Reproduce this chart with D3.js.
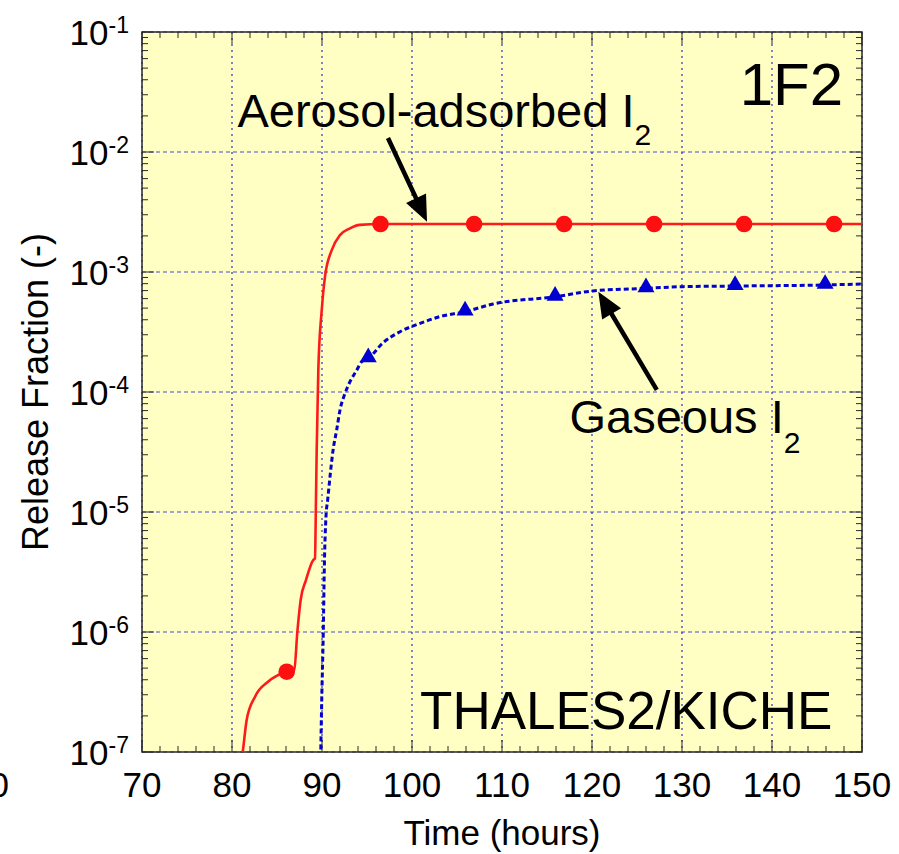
<!DOCTYPE html>
<html>
<head>
<meta charset="utf-8">
<script src="https://cdn.jsdelivr.net/npm/d3@7"></script>
<style>
html,body{margin:0;padding:0;background:#fff;}
svg{display:block;font-family:"Liberation Sans",Arial,Helvetica,sans-serif;}
</style>
</head>
<body>
<svg id="chart" width="899" height="854"></svg>
<script>
// ---------- data ----------
const xTickValues = [70, 80, 90, 100, 110, 120, 130, 140, 150];
const xMinorStep = 2;
const yTickExponents = [-1, -2, -3, -4, -5, -6, -7];
const strayTickLabel = "60";

// Aerosol-adsorbed I2 (red solid)
const aerosolTime  = [81.1, 81.19, 81.63, 82.56, 84.0, 86.08, 86.92, 87.26, 87.63, 88.22, 89.03, 89.22, 89.33, 89.41, 89.59, 89.97, 90.33, 91.08, 92.0, 93.1, 94.2, 96.5, 150];
const aerosolValue = [9e-8, 1.0e-7, 1.85e-7, 2.89e-7, 3.85e-7, 4.67e-7, 4.82e-7, 1.0e-6, 1.85e-6, 2.71e-6, 3.98e-6, 4.11e-6, 1.26e-5, 3.29e-5, 1.52e-4, 4.82e-4, 9.14e-4, 1.52e-3, 2.03e-3, 2.31e-3, 2.47e-3, 2.51e-3, 2.51e-3];
const aerosolMarkerTime  = [86.08, 96.5, 106.9, 116.9, 126.9, 136.9, 146.9];
const aerosolMarkerValue = [4.67e-7, 2.51e-3, 2.51e-3, 2.51e-3, 2.51e-3, 2.51e-3, 2.51e-3];

// Gaseous I2 (blue dotted)
const gasTime  = [89.85, 89.97, 90.14, 90.26, 90.44, 90.63, 91.26, 91.63, 92.0, 92.56, 93.11, 93.86, 94.41, 95.14, 96.81, 98.67, 100.9, 103.1, 105.9, 109.0, 115.9, 120.1, 126.0, 130.1, 135.9, 145.9, 150];
const gasValue = [9e-8, 2.71e-7, 9.8e-7, 3.48e-6, 9.08e-6, 1.26e-5, 3.40e-5, 4.82e-5, 7.08e-5, 9.75e-5, 1.22e-4, 1.52e-4, 1.79e-4, 1.91e-4, 2.58e-4, 3.18e-4, 3.73e-4, 4.25e-4, 4.67e-4, 5.41e-4, 6.22e-4, 6.95e-4, 7.31e-4, 7.55e-4, 7.64e-4, 7.80e-4, 7.94e-4];
const gasMarkerTime  = [95.14, 105.9, 115.9, 126.0, 135.9, 145.9];
const gasMarkerValue = [1.91e-4, 4.67e-4, 6.22e-4, 7.31e-4, 7.64e-4, 7.80e-4];

// annotations (data coordinates)
const arrowAerosol = {from: [97.33, 1.31e-2], to: [101.67, 2.62e-3]};
const arrowGas     = {from: [127.2, 1.04e-4], to: [120.7, 6.86e-4]};
const labelAerosol = {t: 80.6, v: 1.62e-2, text: "Aerosol-adsorbed I", sub: "2"};
const labelGas     = {t: 117.5, v: 4.55e-5, text: "Gaseous I", sub: "2"};
const labelCase    = {t: 147.9, v: 2.47e-2, text: "1F2"};
const labelSource  = {t: 100.9, v: 1.56e-7, text: "THALES2/KICHE"};

// ---------- layout ----------
const svg = d3.select("#chart");
const L = 142, R = 862, T = 32, B = 752;
const x = d3.scaleLinear().domain([70, 150]).range([L, R]);
const y = d3.scaleLog().domain([1e-7, 1e-1]).range([B, T]);

const gridColor = "#2e2ed6";
const frameColor = "#2a2a2a";

svg.append("defs").append("clipPath").attr("id", "plotClip")
  .append("rect").attr("x", L).attr("y", T).attr("width", R - L).attr("height", B - T);

svg.append("rect").attr("x", L).attr("y", T).attr("width", R - L).attr("height", B - T)
  .attr("fill", "#ffffc4");

// grid
const grid = svg.append("g");
grid.selectAll("line.vg").data(xTickValues).join("line")
  .attr("x1", d => x(d)).attr("x2", d => x(d)).attr("y1", T).attr("y2", B)
  .attr("stroke", gridColor).attr("stroke-width", 1.2).attr("stroke-dasharray", "2,4");
grid.selectAll("line.hg").data(yTickExponents).join("line")
  .attr("x1", L).attr("x2", R).attr("y1", d => y(Math.pow(10, d))).attr("y2", d => y(Math.pow(10, d)))
  .attr("stroke", gridColor).attr("stroke-opacity", 0.85).attr("stroke-width", 1.2).attr("stroke-dasharray", "4,3");

// ticks (inward, all four sides)
const ticks = svg.append("g").attr("stroke", frameColor).attr("stroke-width", 1);
const xMinor = d3.range(70, 150 + 0.001, xMinorStep);
xMinor.forEach(v => {
  const major = xTickValues.includes(v);
  const len = major ? 12 : 6;
  ticks.append("line").attr("x1", x(v)).attr("x2", x(v)).attr("y1", B).attr("y2", B - len);
  ticks.append("line").attr("x1", x(v)).attr("x2", x(v)).attr("y1", T).attr("y2", T + len);
});
yTickExponents.forEach(e => {
  const base = Math.pow(10, e);
  ticks.append("line").attr("x1", L).attr("x2", L + 12).attr("y1", y(base)).attr("y2", y(base));
  ticks.append("line").attr("x1", R).attr("x2", R - 12).attr("y1", y(base)).attr("y2", y(base));
  if (e < -1) {
    for (let m = 2; m <= 9; m++) {
      const v = base * m;
      ticks.append("line").attr("x1", L).attr("x2", L + 6).attr("y1", y(v)).attr("y2", y(v));
      ticks.append("line").attr("x1", R).attr("x2", R - 6).attr("y1", y(v)).attr("y2", y(v));
    }
  }
});

// frame
svg.append("rect").attr("x", L).attr("y", T).attr("width", R - L).attr("height", B - T)
  .attr("fill", "none").attr("stroke", frameColor).attr("stroke-width", 1.5);

// series
const plot = svg.append("g").attr("clip-path", "url(#plotClip)");
const line = d3.line().x(d => x(d[0])).y(d => y(d[1])).curve(d3.curveMonotoneX);

plot.append("path").datum(d3.zip(aerosolTime, aerosolValue))
  .attr("d", line).attr("fill", "none").attr("stroke", "#ff1a1a").attr("stroke-width", 2.6);
plot.append("path").datum(d3.zip(gasTime, gasValue))
  .attr("d", line).attr("fill", "none").attr("stroke", "#0000d0").attr("stroke-width", 3)
  .attr("stroke-dasharray", "5,3");

plot.selectAll("circle.am").data(d3.zip(aerosolMarkerTime, aerosolMarkerValue)).join("circle")
  .attr("cx", d => x(d[0])).attr("cy", d => y(d[1])).attr("r", 8.3).attr("fill", "#ff1010");
const tri = d3.symbol(d3.symbolTriangle, 125);
plot.selectAll("path.gm").data(d3.zip(gasMarkerTime, gasMarkerValue)).join("path")
  .attr("d", tri).attr("transform", d => `translate(${x(d[0])},${y(d[1]) - 1})`).attr("fill", "#0000d0");

// arrows
function arrow(a) {
  const x1 = x(a.from[0]), y1 = y(a.from[1]), x2 = x(a.to[0]), y2 = y(a.to[1]);
  const ang = Math.atan2(y2 - y1, x2 - x1);
  const hl = 26, hw = 11;
  const bx = x2 - hl * Math.cos(ang), by = y2 - hl * Math.sin(ang);
  svg.append("line").attr("x1", x1).attr("y1", y1).attr("x2", bx + 2 * Math.cos(ang)).attr("y2", by + 2 * Math.sin(ang))
    .attr("stroke", "#000").attr("stroke-width", 4.5);
  const px = -Math.sin(ang), py = Math.cos(ang);
  svg.append("path").attr("d", `M${x2},${y2}L${bx + hw * px},${by + hw * py}L${bx - hw * px},${by - hw * py}Z`)
    .attr("fill", "#000");
}
arrow(arrowAerosol);
arrow(arrowGas);

// annotation labels
function subLabel(l, size, subSize, subDy) {
  const t = svg.append("text").attr("x", x(l.t)).attr("y", y(l.v)).attr("font-size", size).attr("fill", "#000");
  t.append("tspan").text(l.text);
  t.append("tspan").attr("font-size", subSize).attr("dy", subDy).text(l.sub);
}
subLabel(labelAerosol, 47, 30, 18);
subLabel(labelGas, 47, 30, 20);
svg.append("text").attr("x", x(labelCase.t)).attr("y", y(labelCase.v)).attr("text-anchor", "end")
  .attr("font-size", 60).text(labelCase.text);
svg.append("text").attr("x", x(labelSource.t)).attr("y", y(labelSource.v))
  .attr("font-size", 53).text(labelSource.text);

// axis labels
svg.selectAll("text.xt").data(xTickValues).join("text")
  .attr("x", d => x(d)).attr("y", 797).attr("text-anchor", "middle").attr("font-size", 35).text(d => d);
svg.append("text").attr("x", 9).attr("y", 797).attr("text-anchor", "end").attr("font-size", 35).text(strayTickLabel);

yTickExponents.forEach(e => {
  const t = svg.append("text").attr("x", 129).attr("y", y(Math.pow(10, e)) + 13)
    .attr("text-anchor", "end").attr("font-size", 35);
  t.append("tspan").text("10");
  t.append("tspan").attr("font-size", 23).attr("dy", -12).text(String(e));
});

svg.append("text").attr("x", (L + R) / 2).attr("y", 845).attr("text-anchor", "middle")
  .attr("font-size", 35).text("Time (hours)");
svg.append("text").attr("transform", `translate(48,${(T + B) / 2}) rotate(-90)`)
  .attr("text-anchor", "middle").attr("font-size", 36).text("Release Fraction (-)");
</script>
</body>
</html>
